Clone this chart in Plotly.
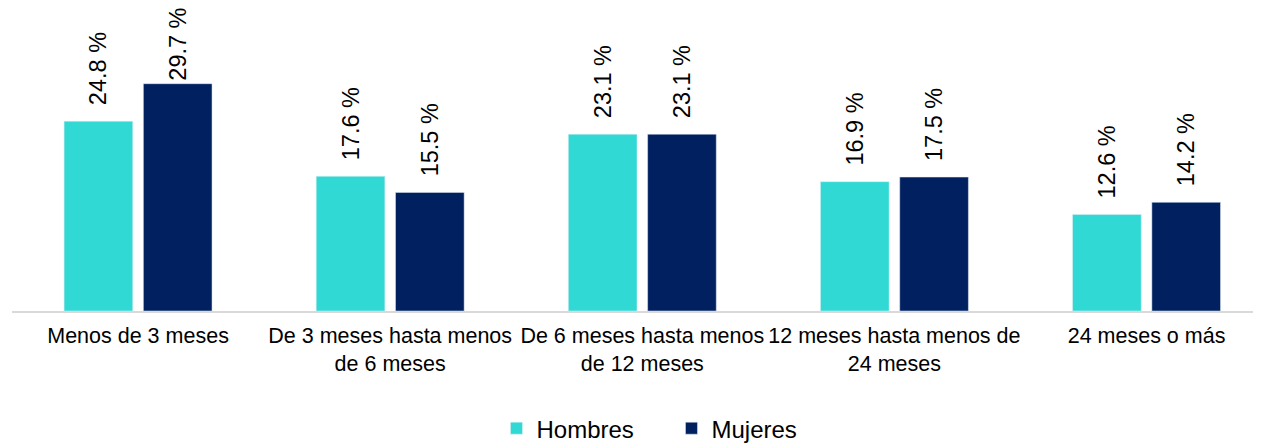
import plotly.graph_objects as go

categories = [
    "Menos de 3 meses",
    "De 3 meses hasta menos de 6 meses",
    "De 6 meses hasta menos de 12 meses",
    "12 meses hasta menos de 24 meses",
    "24 meses o más",
]
tick_labels = [
    "Menos de 3 meses",
    "De 3 meses hasta menos<br>de 6 meses",
    "De 6 meses hasta menos<br>de 12 meses",
    "12 meses hasta menos de<br>24 meses",
    "24 meses o más",
]
hombres = [24.8, 17.6, 23.1, 16.9, 12.6]
mujeres = [29.7, 15.5, 23.1, 17.5, 14.2]

COL_H = "#30D9D3"
COL_M = "#002060"
FONT = "Arial, 'Liberation Sans', sans-serif"
Y_MAX = 39.2


def labels(values):
    out = []
    for v in values:
        pad = "" if v > 28 else "\u00a0\u00a0"
        out.append(f"{pad}{v:.1f} %")
    return out


fig = go.Figure()
fig.add_trace(go.Bar(
    name="Hombres", x=categories, y=hombres, marker_color=COL_H,
    text=labels(hombres), textposition="outside", textangle=-90,
    constraintext="none", cliponaxis=False,
    textfont=dict(family=FONT, size=23.5, color="#000000"),
))
fig.add_trace(go.Bar(
    name="Mujeres", x=categories, y=mujeres, marker_color=COL_M,
    text=labels(mujeres), textposition="outside", textangle=-90,
    constraintext="none", cliponaxis=False,
    textfont=dict(family=FONT, size=23.5, color="#000000"),
))

# page body has an 8px margin, so the figure is shifted by 8px
fig.update_layout(
    width=1253, height=443,
    margin=dict(l=4, r=0, t=3, b=140, autoexpand=False),
    paper_bgcolor="white", plot_bgcolor="white",
    barmode="group", bargap=0.371, bargroupgap=0.134,
    font=dict(family=FONT, color="#000000"),
    showlegend=True,
    legend=dict(
        orientation="h", x=0.528, xanchor="center", y=-0.392, yanchor="middle",
        font=dict(family=FONT, size=24, color="#000000"),
        itemwidth=30, tracegroupgap=0, entrywidth=130, entrywidthmode="pixels",
    ),
    xaxis=dict(
        type="category", range=[-0.5, 4.454],
        tickmode="array", tickvals=categories, ticktext=tick_labels,
        tickfont=dict(family=FONT, size=21.5, color="#000000"),
        showline=True, linecolor="#D9D9D9", linewidth=2,
        ticks="", ticklabelstandoff=4, showgrid=False, zeroline=False,
    ),
    yaxis=dict(
        range=[0, Y_MAX], visible=False, showgrid=False, zeroline=False,
    ),
)

fig.write_html("out.html")
